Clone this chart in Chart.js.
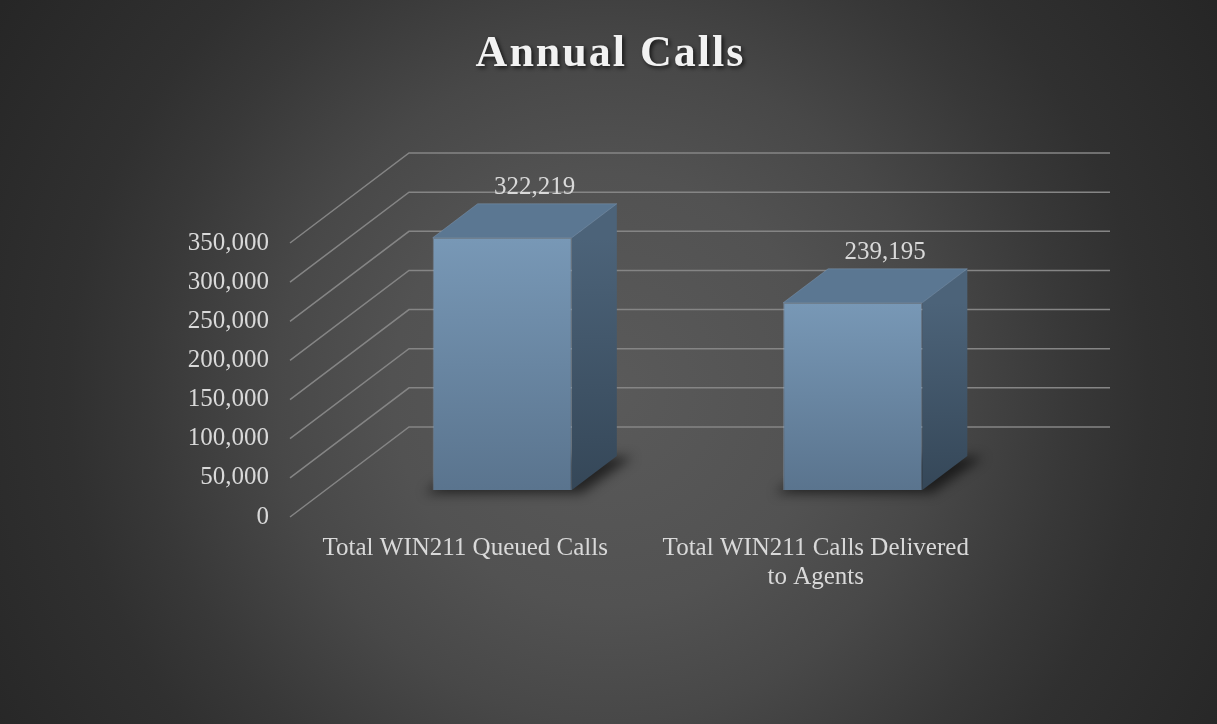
<!DOCTYPE html>
<html>
<head>
<meta charset="utf-8">
<title>Annual Calls</title>
<script src="https://cdn.jsdelivr.net/npm/chart.js@4.4.1/dist/chart.umd.min.js"></script>
<style>
  html, body { margin: 0; padding: 0; background: #262626; }
  canvas { display: block; }
</style>
</head>
<body>
<canvas id="annualCalls" width="1217" height="724"></canvas>
<script>
// data
const categories = [
  ["Total WIN211 Queued Calls"],
  ["Total WIN211 Calls Delivered", "to Agents"],
];
const callCounts = [322219, 239195];
const yTickValues = [0, 50000, 100000, 150000, 200000, 250000, 300000, 350000];

const titleText = "Annual Calls";
const labelFont = "'Liberation Serif', serif";
const textColor = "#d9d9d9";

// fake 3d depth of the bars and of the wall (px)
const barDepth = { dx: 45, dy: -34 };
const wallFront = { dx: -37, dy: 27 };
const wallBack = { dx: 82, dy: -63 };

const fmt = (v) => v.toLocaleString("en-US");

// background + title
const backdrop = {
  id: "backdrop",
  beforeDraw(chart) {
    const { ctx, width, height } = chart;
    const g = ctx.createRadialGradient(608, 390, 0, 608, 390, 720);
    g.addColorStop(0, "#5a5a5a");
    g.addColorStop(0.3, "#525252");
    g.addColorStop(0.46, "#484848");
    g.addColorStop(0.64, "#383838");
    g.addColorStop(0.75, "#303030");
    g.addColorStop(1, "#262626");
    ctx.save();
    ctx.fillStyle = g;
    ctx.fillRect(0, 0, width, height);

    ctx.font = "bold 44px " + labelFont;
    ctx.letterSpacing = "2px";
    ctx.textAlign = "center";
    ctx.textBaseline = "alphabetic";
    ctx.shadowColor = "rgba(0,0,0,0.7)";
    ctx.shadowBlur = 4;
    ctx.shadowOffsetX = 2;
    ctx.shadowOffsetY = 2;
    ctx.fillStyle = "#f2f2f2";
    ctx.fillText(titleText, width / 2 + 2, 66);
    ctx.restore();
  },
};

// wall gridlines, floor shadows, side and top faces
const prism = {
  id: "prism",
  beforeDatasetsDraw(chart) {
    const { ctx, chartArea: a } = chart;
    const y = chart.scales.y;
    ctx.save();
    ctx.strokeStyle = "#858585";
    ctx.lineWidth = 1.5;
    y.ticks.forEach((t) => {
      const py = y.getPixelForValue(t.value);
      ctx.beginPath();
      ctx.moveTo(a.left + wallFront.dx, py + wallFront.dy);
      ctx.lineTo(a.left + wallBack.dx, py + wallBack.dy);
      ctx.lineTo(a.right + wallBack.dx, py + wallBack.dy);
      ctx.stroke();
    });

    const { dx, dy } = barDepth;
    chart.getDatasetMeta(0).data.forEach((bar) => {
      const L = bar.x - bar.width / 2;
      const R = bar.x + bar.width / 2;
      const T = bar.y;
      const B = bar.base;

      // shadow on the floor
      ctx.save();
      ctx.filter = "blur(6px)";
      ctx.fillStyle = "rgba(0,0,0,0.6)";
      ctx.beginPath();
      ctx.moveTo(L - 8, B + 3);
      ctx.lineTo(R + 10, B + 3);
      ctx.lineTo(R + dx + 16, B + dy + 1);
      ctx.lineTo(L + dx, B + dy);
      ctx.closePath();
      ctx.fill();
      ctx.restore();

      // side face
      const gs = ctx.createLinearGradient(0, T, 0, B);
      gs.addColorStop(0, "#4c6379");
      gs.addColorStop(1, "#354758");
      ctx.fillStyle = gs;
      ctx.beginPath();
      ctx.moveTo(R, T);
      ctx.lineTo(R + dx, T + dy);
      ctx.lineTo(R + dx, B + dy);
      ctx.lineTo(R, B);
      ctx.closePath();
      ctx.fill();

      // top face
      ctx.fillStyle = "#5b7792";
      ctx.beginPath();
      ctx.moveTo(L, T);
      ctx.lineTo(R, T);
      ctx.lineTo(R + dx, T + dy);
      ctx.lineTo(L + dx, T + dy);
      ctx.closePath();
      ctx.fill();
      ctx.strokeStyle = "rgba(140,170,200,0.35)";
      ctx.lineWidth = 1;
      ctx.stroke();
    });
    ctx.restore();
  },
  afterDatasetsDraw(chart) {
    const { ctx } = chart;
    const meta = chart.getDatasetMeta(0);
    ctx.save();
    ctx.font = "25px " + labelFont;
    ctx.fillStyle = textColor;
    ctx.textAlign = "center";
    ctx.textBaseline = "middle";
    meta.data.forEach((bar, i) => {
      ctx.fillText(fmt(callCounts[i]), bar.x + barDepth.dx * 0.72, bar.y + barDepth.dy - 16);
    });
    ctx.restore();
  },
};

const ctxAnnual = document.getElementById("annualCalls").getContext("2d");
const annualCalls = new Chart(ctxAnnual, {
  type: "bar",
  data: {
    labels: categories,
    datasets: [
      {
        label: "Annual Calls",
        data: callCounts,
        backgroundColor: (c) => {
          const chart = c.chart;
          if (!chart.chartArea || c.raw === undefined) return "#6b88a5";
          const y = chart.scales.y;
          const top = y.getPixelForValue(c.raw);
          const g = chart.ctx.createLinearGradient(0, top, 0, y.getPixelForValue(0));
          g.addColorStop(0, "#7898b6");
          g.addColorStop(1, "#5a748e");
          return g;
        },
        borderColor: "rgba(150,180,210,0.45)",
        borderWidth: 1,
        categoryPercentage: 1,
        barPercentage: 0.397,
      },
    ],
  },
  options: {
    responsive: false,
    animation: false,
    layout: {
      padding: { top: 216, right: 189, bottom: 0, left: 0 },
    },
    scales: {
      x: {
        grid: { display: false },
        border: { display: false },
        ticks: {
          color: textColor,
          font: { family: labelFont, size: 25, lineHeight: 1.16 },
          padding: 36,
          labelOffset: wallFront.dx,
          maxRotation: 0,
          autoSkip: false,
        },
        afterFit: (s) => { s.height = 234; },
      },
      y: {
        min: 0,
        max: yTickValues[yTickValues.length - 1],
        grid: { display: false },
        border: { display: false },
        afterBuildTicks: (s) => { s.ticks = yTickValues.map((v) => ({ value: v })); },
        ticks: {
          color: textColor,
          font: { family: labelFont, size: 25 },
          padding: 50,
          labelOffset: wallFront.dy,
          callback: (v) => fmt(v),
        },
        afterFit: (s) => { s.width = 327; },
      },
    },
    plugins: {
      legend: { display: false },
      tooltip: { enabled: false },
      title: { display: false },
    },
  },
  plugins: [backdrop, prism],
});
</script>
</body>
</html>
